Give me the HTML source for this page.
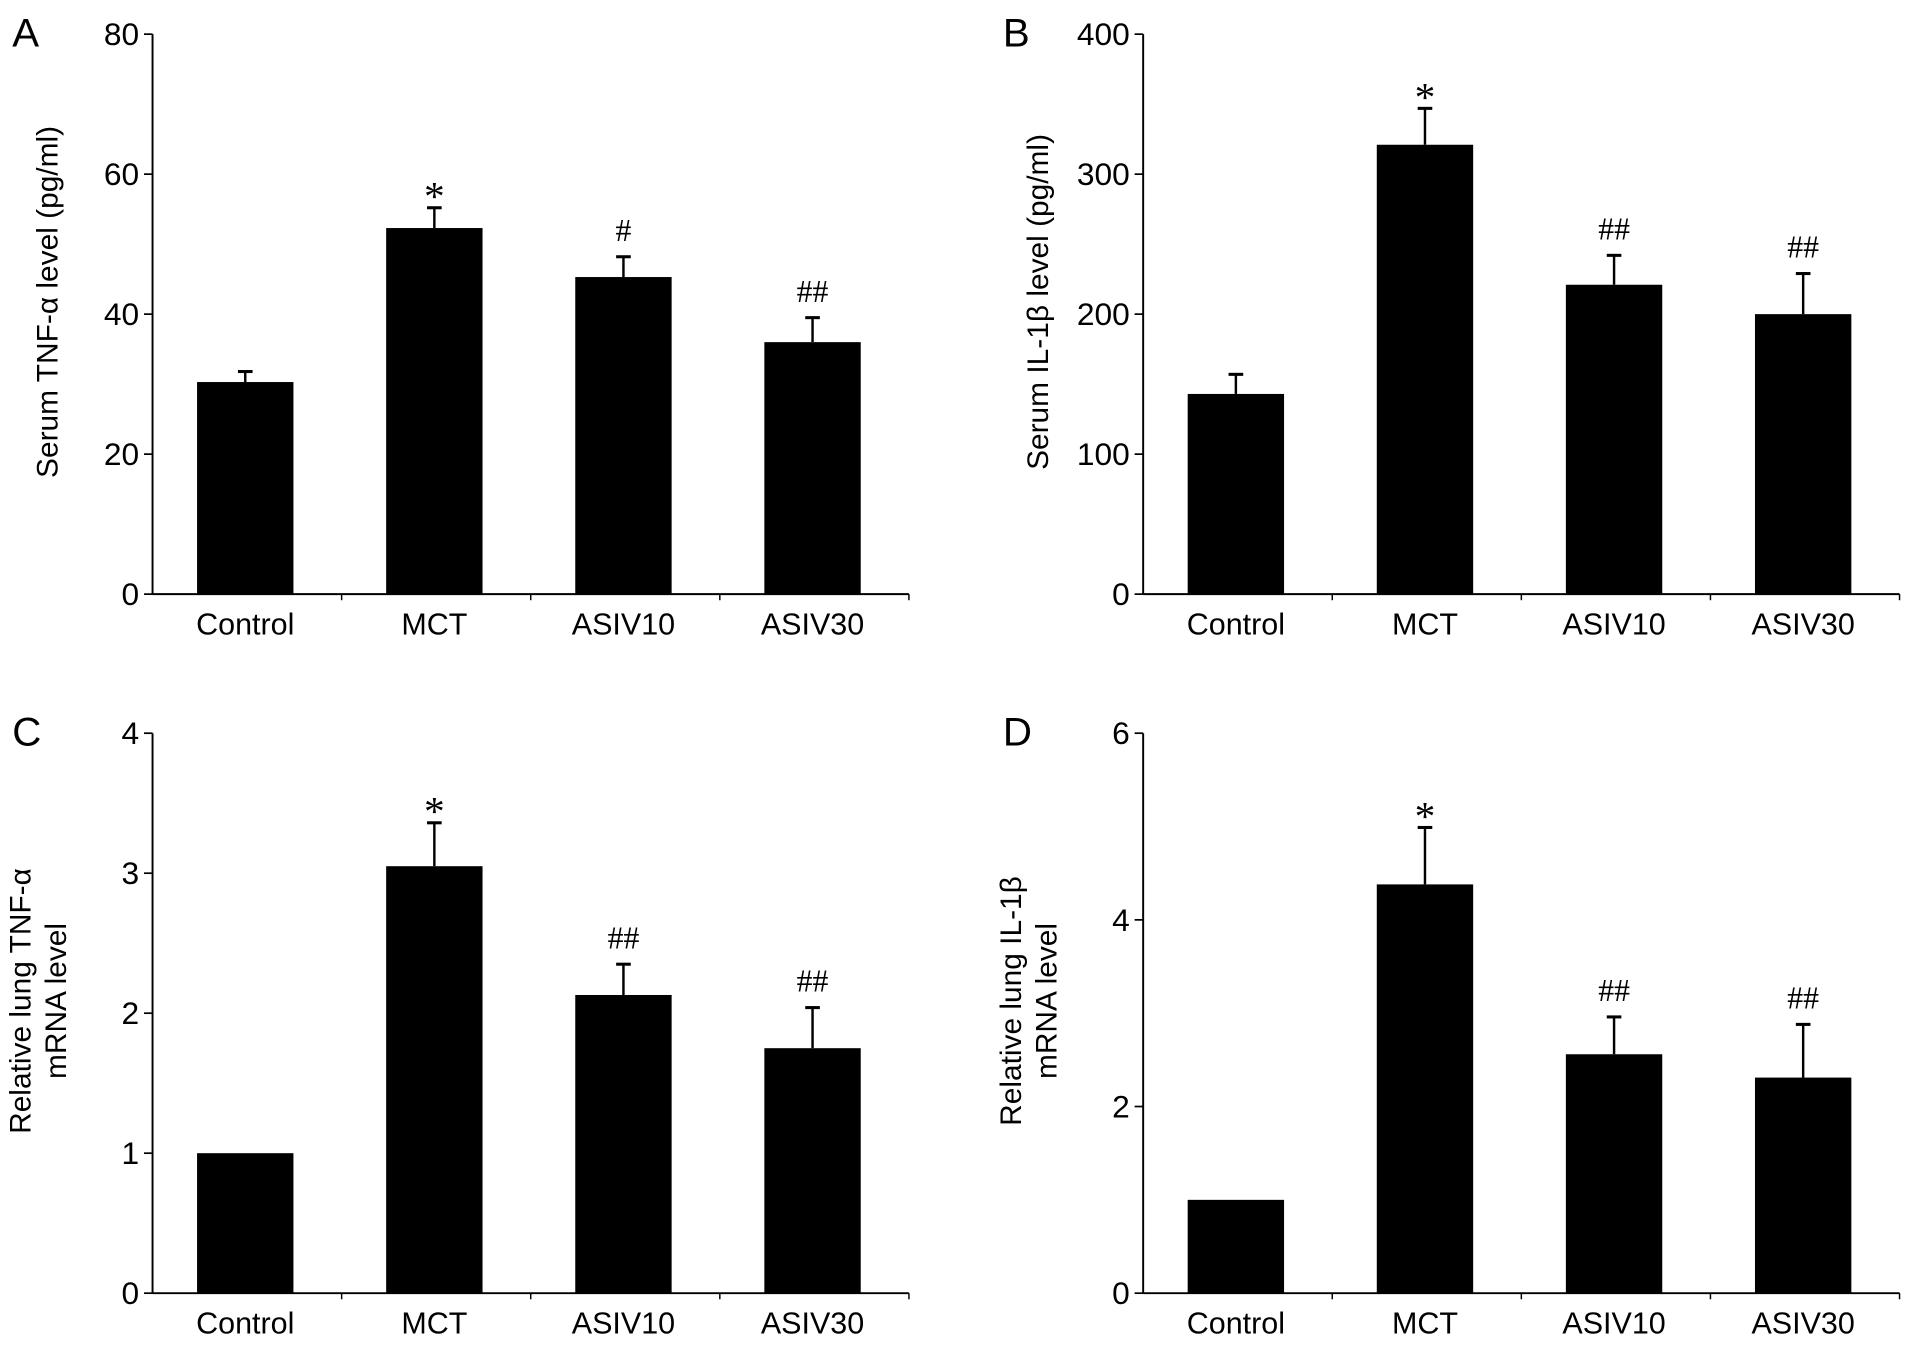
<!DOCTYPE html>
<html><head><meta charset="utf-8">
<style>
html,body{margin:0;padding:0;background:#fff;}
svg{display:block;font-family:"Liberation Sans",sans-serif;}
</style></head>
<body>
<svg id="fig" width="1913" height="1351" viewBox="0 0 1568 1107.4" xmlns="http://www.w3.org/2000/svg"></svg>
<script>
const categories = ["Control","MCT","ASIV10","ASIV30"];
const meansA = [30.3,52.3,45.3,36.0];
const errA = [31.8,55.2,48.2,39.5];
const marksA = ["","*","#","##"];
const ticksA = [0,20,40,60,80];
const meansB = [143,321,221,200];
const errB = [157,347,242,229];
const marksB = ["","*","##","##"];
const ticksB = [0,100,200,300,400];
const meansC = [1.0,3.05,2.13,1.75];
const errC = [1.0,3.36,2.35,2.04];
const marksC = ["","*","##","##"];
const ticksC = [0,1,2,3,4];
const meansD = [1.0,4.38,2.56,2.31];
const errD = [1.0,4.99,2.96,2.88];
const marksD = ["","*","##","##"];
const ticksD = [0,2,4,6];

const NS="http://www.w3.org/2000/svg";
const svg=document.getElementById('fig');
function mk(tag,attrs,parent){const e=document.createElementNS(NS,tag);for(const k in attrs)e.setAttribute(k,attrs[k]);(parent||svg).appendChild(e);return e;}

function panel(id,ox,oy,means,errs,marks,ticks,titleLines,letter){
  const g=mk('g',{});
  
  
  const x0=ox, xEnd=ox+620, yTop=oy, yZero=oy+459;
  const ymax=ticks[ticks.length-1];
  const y=v=>yZero-(v/ymax)*(yZero-yTop);
  const bandW=155, barW=79;
  const cx=i=>x0+76+i*bandW;
  const L=mk('text',{x:ox-115,y:oy+10,'font-size':33},g);
  L.textContent=letter;
  
  
  const ya=mk('line',{x1:x0,y1:yTop,x2:x0,y2:yZero,stroke:'#000','stroke-width':1.6},g);
  
  
  const xa=mk('line',{x1:x0,y1:yZero,x2:xEnd,y2:yZero,stroke:'#000','stroke-width':1.6},g);
  
  
  ticks.forEach(t=>{
    mk('line',{x1:x0-7,y1:y(t),x2:x0,y2:y(t),stroke:'#000','stroke-width':1.4},g);
    const tl=mk('text',{x:x0-11,y:y(t)+9,'font-size':26,'text-anchor':'end'},g);
    tl.textContent=t;
    
    
  });
  for(let i=1;i<=categories.length;i++){
    const tx=x0+i*bandW; mk('line',{x1:tx,y1:yZero,x2:tx,y2:yZero+5,stroke:'#000','stroke-width':1.2},g);
  }
  categories.forEach((c,i)=>{
    const el=mk('text',{x:cx(i),y:yZero+33,'font-size':25,'text-anchor':'middle'},g);
    el.textContent=c;
    
    
    if(errs[i]>means[i]){
      mk('line',{x1:cx(i),y1:y(means[i]),x2:cx(i),y2:y(errs[i]),stroke:'#000','stroke-width':2},g);
      mk('line',{x1:cx(i)-6,y1:y(errs[i]),x2:cx(i)+6,y2:y(errs[i]),stroke:'#000','stroke-width':2.5},g);
    }
    const b=mk('rect',{x:cx(i)-barW/2,y:y(means[i]),width:barW,height:yZero-y(means[i]),fill:'#000'},g);
    
    
    if(marks[i]){
      const star=marks[i]==='*';
      const m=mk('text',{x:cx(i),y:y(errs[i])-(star?-2:13),'font-size':star?34:26,'text-anchor':'middle','font-family':'Liberation Serif,serif'},g);
      m.textContent=marks[i];
      
      
    }
  });
  const midY=(yTop+yZero)/2-10;
  titleLines.forEach((t,k)=>{
    const tx=titleLines.length===1?ox-78:ox-100+k*29;
    const el=mk('text',{x:tx,y:midY,'font-size':24.5,'text-anchor':'middle',transform:`rotate(-90 ${tx} ${midY})`},g);
    el.textContent=t;
    
    
  });
}
panel('a',125,28,meansA,errA,marksA,ticksA,["Serum TNF-α level (pg/ml)"],"A");
panel('b',937,28,meansB,errB,marksB,ticksB,["Serum IL-1β level (pg/ml)"],"B");
panel('c',125,601,meansC,errC,marksC,ticksC,["Relative lung TNF-α","mRNA level"],"C");
panel('d',937,601,meansD,errD,marksD,ticksD,["Relative lung IL-1β","mRNA level"],"D");
</script>
</body></html>
